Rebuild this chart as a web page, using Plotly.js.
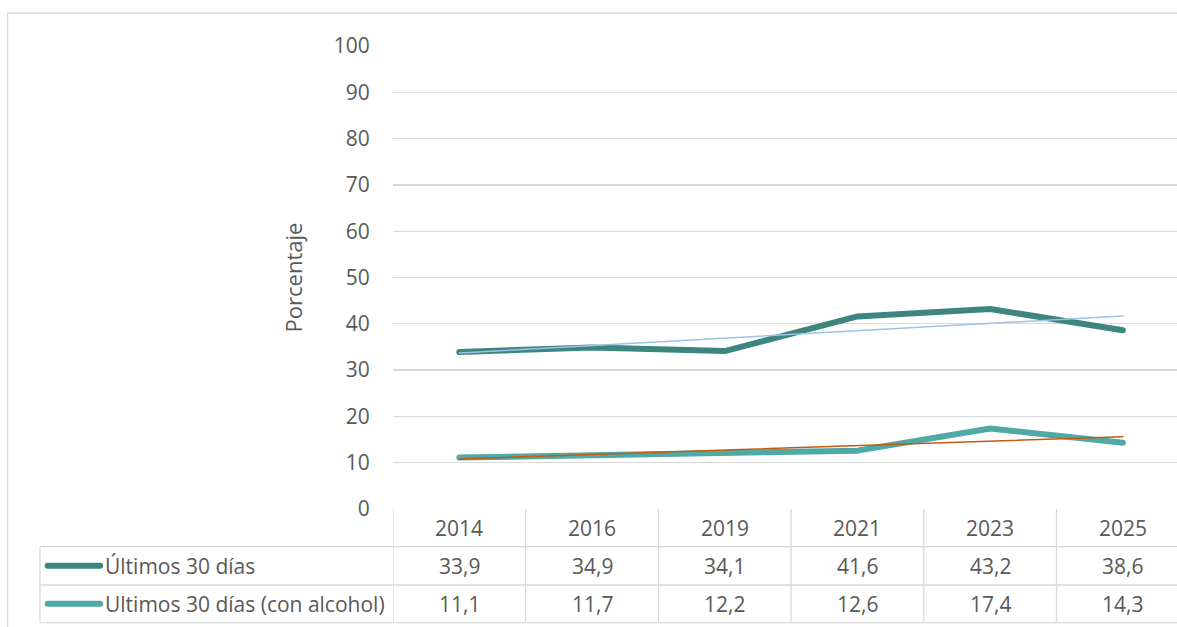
<!DOCTYPE html>
<html>
<head>
<meta charset="utf-8">
<script src="https://cdn.plot.ly/plotly-3.0.1.min.js"></script>
<style>
  html, body { margin: 0; padding: 0; background: #ffffff; }
  #chart { width: 1177px; height: 627px; }
</style>
</head>
<body>
<div id="chart"></div>
<script>
// ---- data ----
var years = ['2014', '2016', '2019', '2021', '2023', '2025'];
var seriesNames = ['Últimos 30 días', 'Ultimos 30 días (con alcohol)'];
var ultimos30 = [33.9, 34.9, 34.1, 41.6, 43.2, 38.6];
var ultimos30Alcohol = [11.1, 11.7, 12.2, 12.6, 17.4, 14.3];
// linear trendline end points (first and last year)
var trendUltimos30 = [33.7, 41.7];
var trendUltimos30Alcohol = [10.8, 15.6];
var yTickVals = [0, 10, 20, 30, 40, 50, 60, 70, 80, 90, 100];

// ---- style ----
var FONT = '"Open Sans", "Noto Sans", sans-serif';
var TXT = '#595959';
var GRID = '#d9d9d9';
var C1 = '#3d857f';
var C2 = '#4fa9a5';
var T1 = '#9dc3e6';
var T2 = '#c55a11';
var FS = 21;
var LW = 6;

function fmt(v) { return v.toFixed(1).replace('.', ','); }

var traces = [
  { x: years, y: ultimos30, type: 'scatter', mode: 'lines', name: seriesNames[0],
    line: { color: C1, width: LW }, hoverinfo: 'skip' },
  { x: years, y: ultimos30Alcohol, type: 'scatter', mode: 'lines', name: seriesNames[1],
    line: { color: C2, width: LW }, hoverinfo: 'skip' },
  { x: [years[0], years[years.length - 1]], y: trendUltimos30, type: 'scatter', mode: 'lines',
    line: { color: T1, width: 1.5 }, hoverinfo: 'skip' },
  { x: [years[0], years[years.length - 1]], y: trendUltimos30Alcohol, type: 'scatter', mode: 'lines',
    line: { color: T2, width: 1.5 }, hoverinfo: 'skip' }
];

// table geometry (paper coordinates, plot area is 393..1177 x 46..509 px)
var rowY = [-0.0814, -0.1641, -0.2456];   // horizontal lines below header
var headerY = -0.041, row1Y = -0.1227, row2Y = -0.2048;
var tableLeft = -0.4503;

var shapes = [];
// outer chart border (top and left)
shapes.push({ type: 'line', xref: 'paper', yref: 'paper', x0: -0.4917, x1: 1.01, y0: 1.0713, y1: 1.0713,
  line: { color: GRID, width: 1.3 } });
shapes.push({ type: 'line', xref: 'paper', yref: 'paper', x0: -0.4917, x1: -0.4917, y0: 1.0713, y1: -0.27,
  line: { color: GRID, width: 1.3 } });
// horizontal table lines
rowY.forEach(function (y) {
  shapes.push({ type: 'line', xref: 'paper', yref: 'paper', x0: tableLeft, x1: 1.01, y0: y, y1: y,
    line: { color: GRID, width: 1.3 } });
});
// left vertical of legend column
shapes.push({ type: 'line', xref: 'paper', yref: 'paper', x0: tableLeft, x1: tableLeft, y0: rowY[0], y1: rowY[2],
  line: { color: GRID, width: 1.3 } });
// column separators
for (var k = 0; k <= years.length; k++) {
  shapes.push({ type: 'line', xref: 'x', yref: 'paper', x0: k - 0.5, x1: k - 0.5, y0: 0, y1: rowY[2],
    line: { color: GRID, width: 1.3 } });
}
// legend keys
shapes.push({ type: 'line', xref: 'paper', yref: 'paper', x0: -0.4405, x1: -0.3735, y0: row1Y, y1: row1Y,
  line: { color: C1, width: LW } });
shapes.push({ type: 'line', xref: 'paper', yref: 'paper', x0: -0.4405, x1: -0.3735, y0: row2Y, y1: row2Y,
  line: { color: C2, width: LW } });

var annotations = [];
years.forEach(function (yr, i) {
  // category index i positions the text in the column of that year
  annotations.push({ xref: 'x', yref: 'paper', x: i, y: headerY, text: yr, showarrow: false,
    xanchor: 'center', yanchor: 'middle', font: { family: FONT, size: FS, color: TXT } });
  annotations.push({ xref: 'x', yref: 'paper', x: i, y: row1Y, text: fmt(ultimos30[i]), showarrow: false,
    xanchor: 'center', yanchor: 'middle', font: { family: FONT, size: FS, color: TXT } });
  annotations.push({ xref: 'x', yref: 'paper', x: i, y: row2Y, text: fmt(ultimos30Alcohol[i]), showarrow: false,
    xanchor: 'center', yanchor: 'middle', font: { family: FONT, size: FS, color: TXT } });
});
annotations.push({ xref: 'paper', yref: 'paper', x: -0.3695, y: row1Y, text: seriesNames[0], showarrow: false,
  xanchor: 'left', yanchor: 'middle', font: { family: FONT, size: FS, color: TXT } });
annotations.push({ xref: 'paper', yref: 'paper', x: -0.3695, y: row2Y, text: seriesNames[1], showarrow: false,
  xanchor: 'left', yanchor: 'middle', font: { family: FONT, size: FS, color: TXT } });
annotations.push({ xref: 'paper', yref: 'paper', x: -0.1276, y: 0.5, text: 'Porcentaje', showarrow: false,
  textangle: -90, xanchor: 'center', yanchor: 'middle', font: { family: FONT, size: 22, color: TXT } });

var layout = {
  width: 1177, height: 627,
  margin: { l: 393, r: 0, t: 46, b: 118, pad: 0 },
  paper_bgcolor: '#ffffff', plot_bgcolor: '#ffffff',
  showlegend: false,
  font: { family: FONT, size: FS, color: TXT },
  xaxis: { type: 'category', range: [-0.5, 5.408], showticklabels: false, showgrid: false,
    zeroline: false, showline: false, ticks: '', fixedrange: true },
  yaxis: { range: [0, 100], tickvals: yTickVals, ticktext: yTickVals.map(String),
    showgrid: true, gridcolor: GRID, gridwidth: 1.3, zeroline: false, showline: false,
    ticks: 'outside', ticklen: 18, tickcolor: 'rgba(0,0,0,0)',
    tickfont: { family: FONT, size: FS, color: TXT }, fixedrange: true },
  shapes: shapes,
  annotations: annotations
};

Plotly.newPlot('chart', traces, layout, { displayModeBar: false, staticPlot: true }).then(function () {
  document.querySelectorAll('.scatterlayer path.js-line').forEach(function (p) {
    p.style.strokeLinecap = 'round';
    p.style.strokeLinejoin = 'round';
  });
  document.querySelectorAll('.shapelayer path').forEach(function (p) {
    var s = p.getAttribute('style') || '';
    if (s.indexOf('stroke-width: 6px') >= 0) { p.style.strokeLinecap = 'round'; }
  });
});
</script>
</body>
</html>
